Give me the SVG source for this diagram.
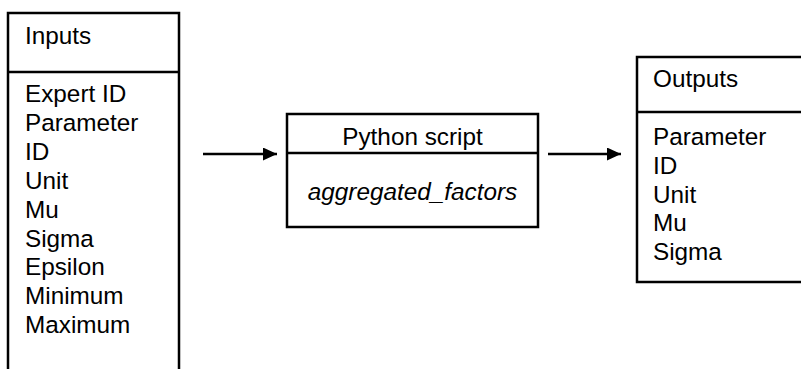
<svg xmlns="http://www.w3.org/2000/svg" width="801" height="369" viewBox="0 0 801 369">
<style>
.box{fill:#fff;stroke:#000;stroke-width:2.5}
.ln{stroke:#000;stroke-width:2.5;fill:none}
text{font-family:"Liberation Sans",Arial,sans-serif;font-size:24.3px;fill:#000}
.it{font-style:italic}
.c{text-anchor:middle}
</style>
<defs>
<marker id="ah" markerWidth="15" markerHeight="13" refX="14" refY="6.5" orient="auto" markerUnits="userSpaceOnUse">
<path d="M0,0 L14,6.5 L0,13 Z" fill="#000"/>
</marker>
</defs>
<g id="inputs">
<path class="box" d="M8,380 L8,13 L179,13 L179,380"/>
<line class="ln" x1="8" y1="72" x2="179" y2="72"/>
<text x="25" y="44">Inputs</text>
<text x="25" y="102">Expert ID</text>
<text x="25" y="131">Parameter</text>
<text x="25" y="160">ID</text>
<text x="25" y="189">Unit</text>
<text x="25" y="218">Mu</text>
<text x="25" y="247">Sigma</text>
<text x="25" y="275">Epsilon</text>
<text x="25" y="304">Minimum</text>
<text x="25" y="333">Maximum</text>
</g>
<g id="python">
<rect class="box" x="287" y="114" width="251" height="113"/>
<line class="ln" x1="287" y1="153" x2="538" y2="153"/>
<text class="c" x="412.5" y="145">Python script</text>
<text class="c it" x="412.5" y="200">aggregated_factors</text>
</g>
<g id="outputs">
<path class="box" d="M810,57 L637,57 L637,282 L810,282"/>
<line class="ln" x1="637" y1="112" x2="810" y2="112"/>
<text x="653" y="87">Outputs</text>
<text x="653" y="145">Parameter</text>
<text x="653" y="174">ID</text>
<text x="653" y="203">Unit</text>
<text x="653" y="231">Mu</text>
<text x="653" y="260">Sigma</text>
</g>
<g id="connectors">
<line class="ln" x1="203" y1="154" x2="277" y2="154" marker-end="url(#ah)"/>
<line class="ln" x1="548" y1="154" x2="621" y2="154" marker-end="url(#ah)"/>
</g>
</svg>
